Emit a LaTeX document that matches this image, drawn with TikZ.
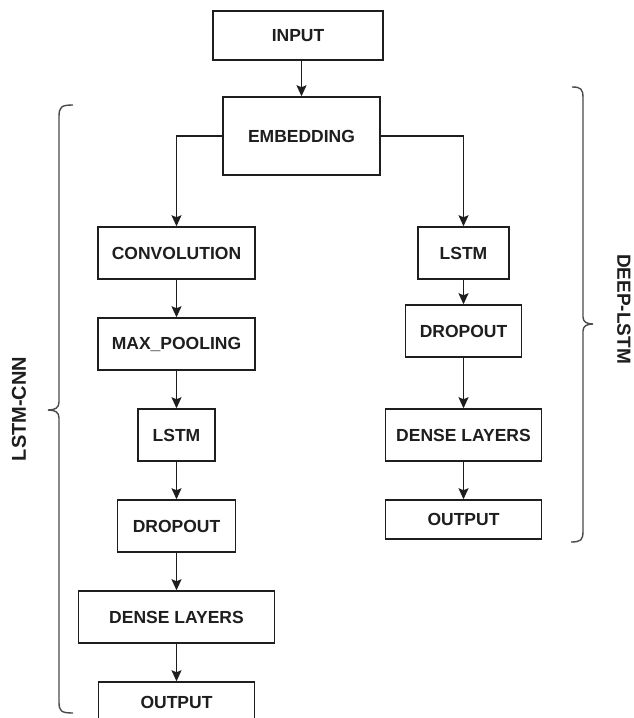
\documentclass[tikz,border=0pt]{standalone}
\usepackage{fontspec}
\setmainfont{Liberation Sans}
\usetikzlibrary{arrows.meta}
\definecolor{ink}{HTML}{1E1E1E}
\definecolor{brc}{HTML}{4A4A4A}
\tikzset{
  blk/.style={draw=ink, line width=1.5pt, rectangle, inner sep=0pt,
    font=\fontsize{17.5}{20}\selectfont\bfseries, text=ink},
  arr/.style={draw=ink, line width=1.5pt, -{Stealth[length=11pt,width=10pt,inset=2pt]}},
  brace/.style={draw=brc, line width=1.4pt},
  lbl/.style={font=\fontsize{19}{22}\selectfont\bfseries, text=ink, inner sep=0pt}
}
\begin{document}
\begin{tikzpicture}[x=1pt,y=-1pt]
\useasboundingbox (0,0) rectangle (634,718);
\clip (0,0) rectangle (634,718);
\fill[white] (0,0) rectangle (634,718);
% top
\node[blk, minimum width=170pt, minimum height=49pt] (inp) at (298,35.5) {INPUT};
\node[blk, minimum width=157pt, minimum height=78pt] (emb) at (301.5,136) {EMBEDDING};
% left branch
\node[blk, minimum width=157pt, minimum height=52pt] (conv) at (176.5,253) {CONVOLUTION};
\node[blk, minimum width=157pt, minimum height=52pt] (pool) at (176.5,344) {MAX\_POOLING};
\node[blk, minimum width=77pt, minimum height=52pt] (lstml) at (176.5,435) {LSTM};
\node[blk, minimum width=118pt, minimum height=52pt] (dropl) at (176.5,526) {DROPOUT};
\node[blk, minimum width=196pt, minimum height=52pt] (densel) at (176.5,617) {DENSE LAYERS};
\node[blk, minimum width=156pt, minimum height=52pt] (outl) at (176.5,708) {};
\node[font=\fontsize{17.5}{20}\selectfont\bfseries, text=ink, inner sep=0pt] (outltxt) at (176.5,702) {OUTPUT};
% right branch
\node[blk, minimum width=91pt, minimum height=52pt] (lstmr) at (463.5,253) {LSTM};
\node[blk, minimum width=116pt, minimum height=52pt] (dropr) at (463.5,331) {DROPOUT};
\node[blk, minimum width=156pt, minimum height=52pt] (denser) at (463.5,435) {DENSE LAYERS};
\node[blk, minimum width=156pt, minimum height=39pt] (outr) at (463.5,519.5) {OUTPUT};
% connectors
\draw[arr] (emb.north |- inp.south) -- (emb.north);
\draw[arr] (emb.west) -| (conv.north);
\draw[arr] (emb.east) -| (lstmr.north);
\draw[arr] (conv) -- (pool);
\draw[arr] (pool) -- (lstml);
\draw[arr] (lstml) -- (dropl);
\draw[arr] (dropl) -- (densel);
\draw[arr] (densel) -- (outl);
\draw[arr] (lstmr) -- (dropr);
\draw[arr] (dropr) -- (denser);
\draw[arr] (denser) -- (outr);
% braces
\draw[brace] (73,105) .. controls (61,105) and (59,107) .. (59,117) -- (59,402)
  .. controls (59,408) and (55,410) .. (48,410) .. controls (55,410) and (59,412) .. (59,418)
  -- (59,702) .. controls (59,711) and (61,713) .. (73,713);
\draw[brace] (572,87) .. controls (581,87) and (583,89) .. (583,98) -- (583,317)
  .. controls (583,322) and (587,324) .. (593,324) .. controls (587,324) and (583,326) .. (583,331)
  -- (583,531) .. controls (583,540) and (581,542) .. (571,542);
% labels
\node[lbl, rotate=90, font=\fontsize{20}{22}\selectfont\bfseries] (lcnn) at (19,409) {LSTM-CNN};
\node[lbl, rotate=-90] (dlstm) at (624,309) {DEEP-LSTM};
\end{tikzpicture}
\end{document}
